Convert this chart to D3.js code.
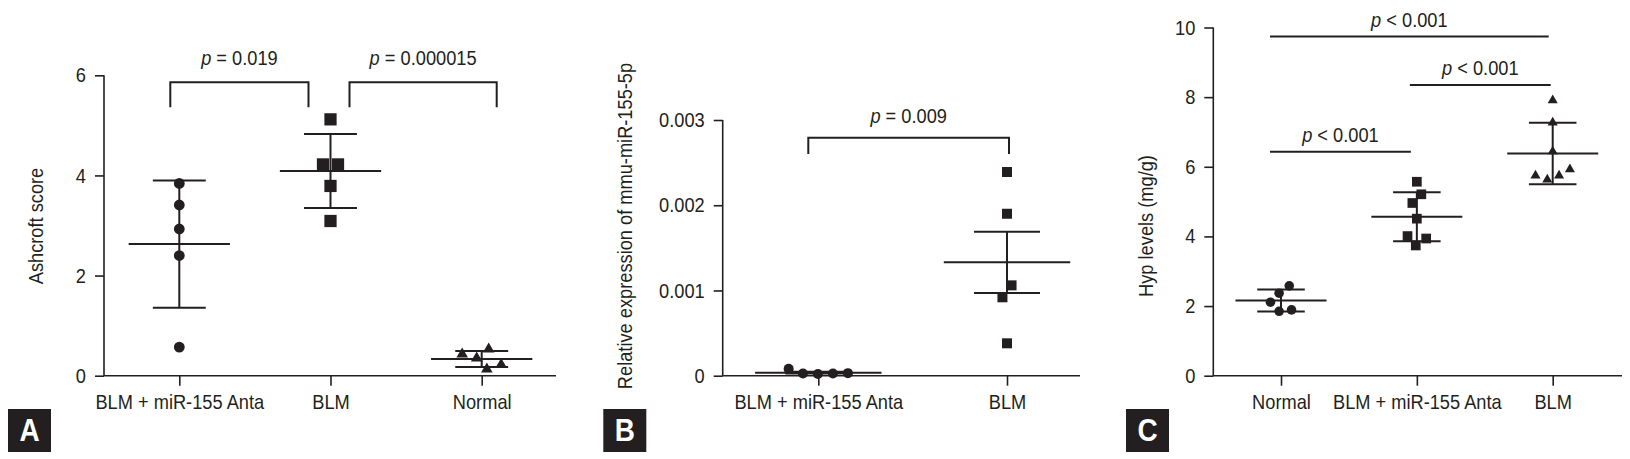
<!DOCTYPE html>
<html>
<head>
<meta charset="utf-8">
<script src="https://cdn.jsdelivr.net/npm/d3@7"></script>
<style>
body { margin: 0; background: #fff; }
svg { display: block; }
</style>
</head>
<body>
<div id="figure"></div>
<script>
// Panel A: Ashcroft score
var ashGroups = ["BLM + miR-155 Anta", "BLM", "Normal"];
var ashAnta = [3.84, 3.41, 2.93, 2.40, 0.57];
var ashBlm = [5.12, 4.22, 4.22, 3.79, 3.09];
var ashNormal = [0.35, 0.53, 0.43, 0.13, 0.22];
var ashTicks = [0, 2, 4, 6];
var ashPvals = ["= 0.019", "= 0.000015"];

// Panel B: relative expression of mmu-miR-155-5p
var mirGroups = ["BLM + miR-155 Anta", "BLM"];
var mirAnta = [0.00008, 0.000025, 0.00002, 0.000025, 0.00003];
var mirBlm = [0.00239, 0.00190, 0.00106, 0.00092, 0.00038];
var mirTicks = [0, 0.001, 0.002, 0.003];
var mirPvals = ["= 0.009"];

// Panel C: Hyp levels
var hypGroups = ["Normal", "BLM + miR-155 Anta", "BLM"];
var hypNormal = [2.58, 2.37, 2.11, 1.85, 1.89];
var hypAnta = [5.57, 5.21, 4.96, 4.51, 4.01, 3.94, 3.74];
var hypBlm = [7.91, 7.27, 6.44, 5.75, 5.63, 5.75, 5.93];
var hypTicks = [0, 2, 4, 6, 8, 10];
var hypPvals = ["< 0.001", "< 0.001", "< 0.001"];

var ink = "#231f20";
var font = "'Liberation Sans', Arial, sans-serif";
var squeeze = " scale(0.89,1)";
var fontSize = 20.5;
var base = 375.7;

var panels = [
    {
        letter: "A", boxX: 8, title: "Ashcroft score", titleX: 43.3,
        groups: ashGroups, series: [ashAnta, ashBlm, ashNormal],
        shapes: [d3.symbolCircle, d3.symbolSquare, d3.symbolTriangle], sizes: [92, 150, 58],
        domain: [0, 6], ticks: ashTicks, fmt: d3.format("d"), error: "sd",
        left: 104, right: 556, first: 179.3, last: 481.7, top: 75.3, gap: 15,
        lift: 17,
        notes: [
            {from: 0, to: 1, y: 5.86, leg: 5.36, nudge: [-9, -22], text: ashPvals[0]},
            {from: 1, to: 2, y: 5.86, leg: 5.36, nudge: [19, 15], text: ashPvals[1]}
        ]
    },
    {
        letter: "B", boxX: 603.3, title: "Relative expression of mmu-miR-155-5p", titleX: 631.7,
        groups: mirGroups, series: [mirAnta, mirBlm],
        shapes: [d3.symbolCircle, d3.symbolSquare], sizes: [79, 100],
        domain: [0, 0.003], ticks: mirTicks, fmt: function (d) { return d === 0 ? "0" : d3.format(".3f")(d); },
        error: "sem",
        left: 722.7, right: 1080, first: 818.3, last: 1007, top: 120, gap: 15,
        lift: 15,
        notes: [
            {from: 0, to: 1, y: 0.002793, leg: 0.002602, nudge: [-10, 2], text: mirPvals[0]}
        ]
    },
    {
        letter: "C", boxX: 1126, title: "Hyp levels (mg/g)", titleX: 1152.5,
        groups: hypGroups, series: [hypNormal, hypAnta, hypBlm],
        shapes: [d3.symbolCircle, d3.symbolSquare, d3.symbolTriangle], sizes: [72, 94, 44],
        domain: [0, 10], ticks: hypTicks, fmt: d3.format("d"), error: "sd",
        left: 1213.3, right: 1622, first: 1281, last: 1552.7, top: 27.5, gap: 12.5,
        lift: 10,
        notes: [
            {from: 0, to: 2, y: 9.74, leg: null, nudge: [-11, -4], text: hypPvals[0]},
            {from: 1, to: 2, y: 8.35, leg: null, nudge: [-7, -2], text: hypPvals[1]},
            {from: 0, to: 1, y: 6.43, leg: null, nudge: [-11, -6], text: hypPvals[2]}
        ]
    }
];

var svg = d3.select("#figure").append("svg")
    .attr("width", 1630)
    .attr("height", 459);

svg.append("rect").attr("width", 1630).attr("height", 459).attr("fill", "#fff");

// beeswarm: each point goes to the offset nearest the centre that keeps it clear of the others,
// then every run of overlapping rows is re-centred on the column
function swarm(values, y, gap) {
    var order = d3.range(values.length).sort(function (a, b) { return values[a] - values[b]; });
    var placed = [];
    var out = [];
    order.forEach(function (i) {
        var py = y(values[i]);
        var cands = [0];
        placed.forEach(function (p) {
            var dy = Math.abs(p.y - py);
            if (dy < gap) {
                var dx = Math.sqrt(gap * gap - dy * dy) + 0.01;
                cands.push(p.x + dx, p.x - dx);
            }
        });
        cands.sort(function (a, b) { return Math.abs(a) - Math.abs(b); });
        var px = cands.find(function (c) {
            return placed.every(function (p) {
                return (p.x - c) * (p.x - c) + (p.y - py) * (p.y - py) >= gap * gap - 0.1;
            });
        });
        placed.push({i: i, x: px, y: py});
        out[i] = px;
    });

    // clusters in value order
    var runs = [], run = [placed[0]];
    for (var k = 1; k < placed.length; k++) {
        if (Math.abs(placed[k].y - placed[k - 1].y) < gap) run.push(placed[k]);
        else { runs.push(run); run = [placed[k]]; }
    }
    runs.push(run);
    runs.forEach(function (r) {
        var ext = d3.extent(r, function (p) { return p.x; });
        var shift = (ext[0] + ext[1]) / 2;
        r.forEach(function (p) { out[p.i] = p.x - shift; });
    });
    return out;
}

function drawPanel(p) {
    var g = svg.append("g")
        .attr("font-family", font)
        .attr("fill", ink);

    var y = d3.scaleLinear().domain(p.domain).range([base, p.top]);
    var x = d3.scalePoint().domain(p.groups).range([p.first, p.last]);
    var step = (p.last - p.first) / (p.groups.length - 1);

    // axes
    var ya = g.append("g")
        .attr("transform", "translate(" + p.left + ",0)")
        .call(d3.axisLeft(y).tickValues(p.ticks).tickFormat(p.fmt).tickSize(9).tickSizeOuter(0).tickPadding(9));
    ya.select(".domain").remove();
    ya.selectAll("line").attr("stroke", ink).attr("stroke-width", 1.6);
    ya.selectAll("text")
        .attr("x", 0)
        .attr("transform", "translate(-18,0)" + squeeze)
        .attr("fill", ink).attr("font-size", fontSize).attr("font-family", font);

    var xa = g.append("g")
        .attr("transform", "translate(0," + base + ")")
        .call(d3.axisBottom(x).tickSize(10).tickSizeOuter(0));
    xa.select(".domain").remove();
    xa.selectAll("line").attr("stroke", ink).attr("stroke-width", 1.6);
    xa.selectAll("text")
        .attr("y", 0).attr("dy", null)
        .attr("transform", "translate(0,33.6)" + squeeze)
        .attr("fill", ink).attr("font-size", fontSize).attr("font-family", font);

    g.append("path")
        .attr("d", "M" + p.left + "," + p.top + "V" + base + "H" + p.right)
        .attr("fill", "none")
        .attr("stroke", ink)
        .attr("stroke-width", 1.6);

    g.append("text")
        .attr("transform", "translate(" + p.titleX + ",226) rotate(-90)" + squeeze)
        .attr("text-anchor", "middle")
        .attr("font-size", fontSize)
        .text(p.title);

    // mean with SD / SEM, then the points
    p.series.forEach(function (vals, i) {
        var cx = x(p.groups[i]);
        var m = d3.mean(vals);
        var e = d3.deviation(vals);
        if (p.error === "sem") e = e / Math.sqrt(vals.length);
        var half = step * 0.335, cap = step * 0.175;
        var bars = g.append("g").attr("stroke", ink).attr("stroke-width", 2).attr("fill", "none");
        bars.append("line").attr("x1", cx - half).attr("x2", cx + half).attr("y1", y(m)).attr("y2", y(m));
        bars.append("line").attr("x1", cx).attr("x2", cx).attr("y1", y(m - e)).attr("y2", y(m + e));
        [m - e, m + e].forEach(function (v) {
            bars.append("line").attr("x1", cx - cap).attr("x2", cx + cap).attr("y1", y(v)).attr("y2", y(v));
        });

        var offs = swarm(vals, y, p.gap);
        g.selectAll(null)
            .data(vals)
            .enter().append("path")
            .attr("d", d3.symbol().type(p.shapes[i]).size(p.sizes[i]))
            .attr("transform", function (d, j) { return "translate(" + (cx + offs[j]) + "," + y(d) + ")"; })
            .attr("fill", ink);
    });

    // significance brackets / lines
    p.notes.forEach(function (n) {
        var x1 = x(p.groups[n.from]) + n.nudge[0];
        var x2 = x(p.groups[n.to]) + n.nudge[1];
        var d = n.leg === null
            ? "M" + x1 + "," + y(n.y) + "H" + x2
            : "M" + x1 + "," + y(n.leg) + "V" + y(n.y) + "H" + x2 + "V" + y(n.leg);
        g.append("path")
            .attr("d", d)
            .attr("fill", "none")
            .attr("stroke", ink)
            .attr("stroke-width", 2);
        var t = g.append("text")
            .attr("transform", "translate(" + ((x1 + x2) / 2) + "," + (y(n.y) - p.lift) + ")" + squeeze)
            .attr("text-anchor", "middle")
            .attr("font-size", fontSize);
        t.append("tspan").attr("font-style", "italic").text("p");
        t.append("tspan").text(" " + n.text);
    });

    // panel letter
    g.append("rect")
        .attr("x", p.boxX).attr("y", 409)
        .attr("width", 43).attr("height", 43)
        .attr("fill", ink);
    g.append("text")
        .attr("transform", "translate(" + (p.boxX + 21.5) + ",440.7) scale(0.9,1)")
        .attr("text-anchor", "middle")
        .attr("font-size", 31)
        .attr("font-weight", "bold")
        .attr("fill", "#fff")
        .text(p.letter);
}

panels.forEach(drawPanel);
</script>
</body>
</html>
